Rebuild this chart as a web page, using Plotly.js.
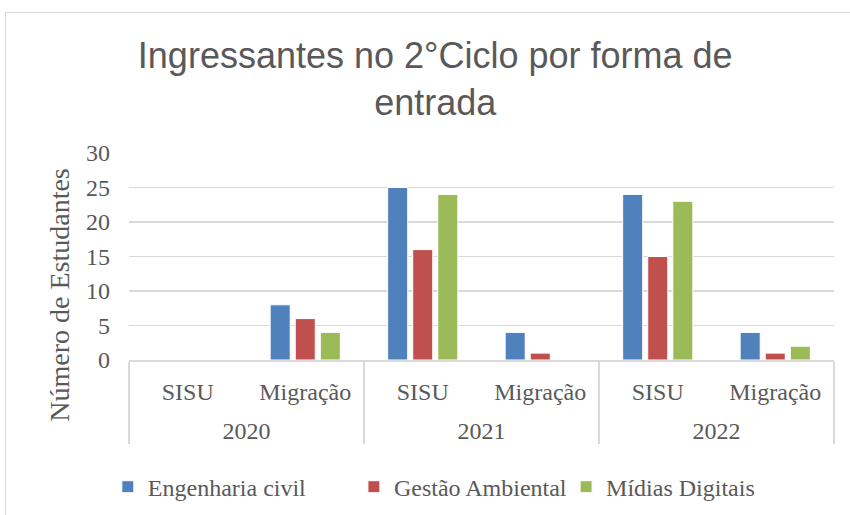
<!DOCTYPE html>
<html>
<head>
<meta charset="utf-8">
<script src="https://cdn.plot.ly/plotly-3.0.1.min.js"></script>
<style>
  html, body { margin: 0; padding: 0; background: #fff; }
  #wrap { position: relative; width: 850px; height: 515px; overflow: hidden; }
  #chart { width: 850px; height: 515px; }
  #frame { position: absolute; left: 5px; top: 12px; width: 900px; height: 600px;
           border-top: 1.5px solid #d9d9d9; border-left: 1.5px solid #d9d9d9; pointer-events: none; }
</style>
</head>
<body>
<div id="wrap"><div id="chart"></div><div id="frame"></div></div>
<script>
const years = ["2020", "2020", "2021", "2021", "2022", "2022"];
const forms = ["SISU", "Migração", "SISU", "Migração", "SISU", "Migração"];
const engenhariaCivil = [0, 8, 25, 4, 24, 4];
const gestaoAmbiental = [0, 6, 16, 1, 15, 1];
const midiasDigitais = [0, 4, 24, 0, 23, 2];
const seriesNames = ["Engenharia civil", "Gestão Ambiental", "Mídias Digitais"];
const seriesColors = ["#4F81BD", "#C0504D", "#9BBB59"];
const seriesValues = [engenhariaCivil, gestaoAmbiental, midiasDigitais];

const serif = "Liberation Serif, DejaVu Serif, serif";
// category labels drawn at 24px over a smaller base; the inner level gets an empty
// second line so the year row sits lower, as in the reference
const big = s => "<span style='font-size:24px'>" + s + "</span>";
const yearLabels = years.map(y => big(y));
const formLabels = forms.map(f => big(f) + "<br>&nbsp;");
const legendIds = ["legend", "legend2", "legend3"];

const traces = seriesValues.map((vals, i) => ({
  type: "bar",
  name: seriesNames[i],
  x: [yearLabels, formLabels],
  y: vals,
  legend: legendIds[i],
  marker: { color: seriesColors[i], line: { color: "#ffffff", width: 1 } },
  hoverinfo: "y+name"
}));

const legendBase = (x) => ({
  orientation: "h", x: x, xanchor: "left", y: -0.614, yanchor: "middle",
  font: { family: serif, size: 24, color: "#595959" },
  itemwidth: 30, bgcolor: "rgba(0,0,0,0)", borderwidth: 0
});

const nb = "&nbsp;".repeat(11);
const layout = {
  width: 850, height: 515,
  margin: { l: 129, r: 16, t: 153, b: 155, autoexpand: false },
  paper_bgcolor: "#ffffff", plot_bgcolor: "#ffffff",
  barmode: "group", bargap: 0.36, bargroupgap: 0.2,
  title: {
    text: "Ingressantes no 2°Ciclo por forma de<br>entrada",
    font: { family: "Liberation Sans, Arial, sans-serif", size: 36, color: "#595959" },
    x: 0.512, xanchor: "center", y: 0.868, yanchor: "middle"
  },
  font: { family: serif, color: "#595959" },
  yaxis: {
    range: [0, 30], dtick: 5, tick0: 0, automargin: false,
    showgrid: true, gridcolor: "#d9d9d9", gridwidth: 1.5,
    zeroline: false, showline: false, ticks: "",
    tickfont: { family: serif, size: 24, color: "#595959" },
    ticklabelstandoff: 18,
    title: { text: "Número de Estudantes" + nb, font: { family: serif, size: 28, color: "#595959" }, standoff: 8 }
  },
  xaxis: {
    type: "multicategory", automargin: false,
    showline: true, linecolor: "#d9d9d9", linewidth: 1.5,
    showdividers: true, dividercolor: "#d9d9d9", dividerwidth: 1.5,
    ticks: "", showgrid: false, ticklabelstandoff: 14,
    tickfont: { family: serif, size: 20, color: "#595959" }
  },
  legend: legendBase(-0.03),
  legend2: legendBase(0.319),
  legend3: legendBase(0.62),
  showlegend: true
};

Plotly.newPlot("chart", traces, layout, { displayModeBar: false, staticPlot: true });
</script>
</body>
</html>
